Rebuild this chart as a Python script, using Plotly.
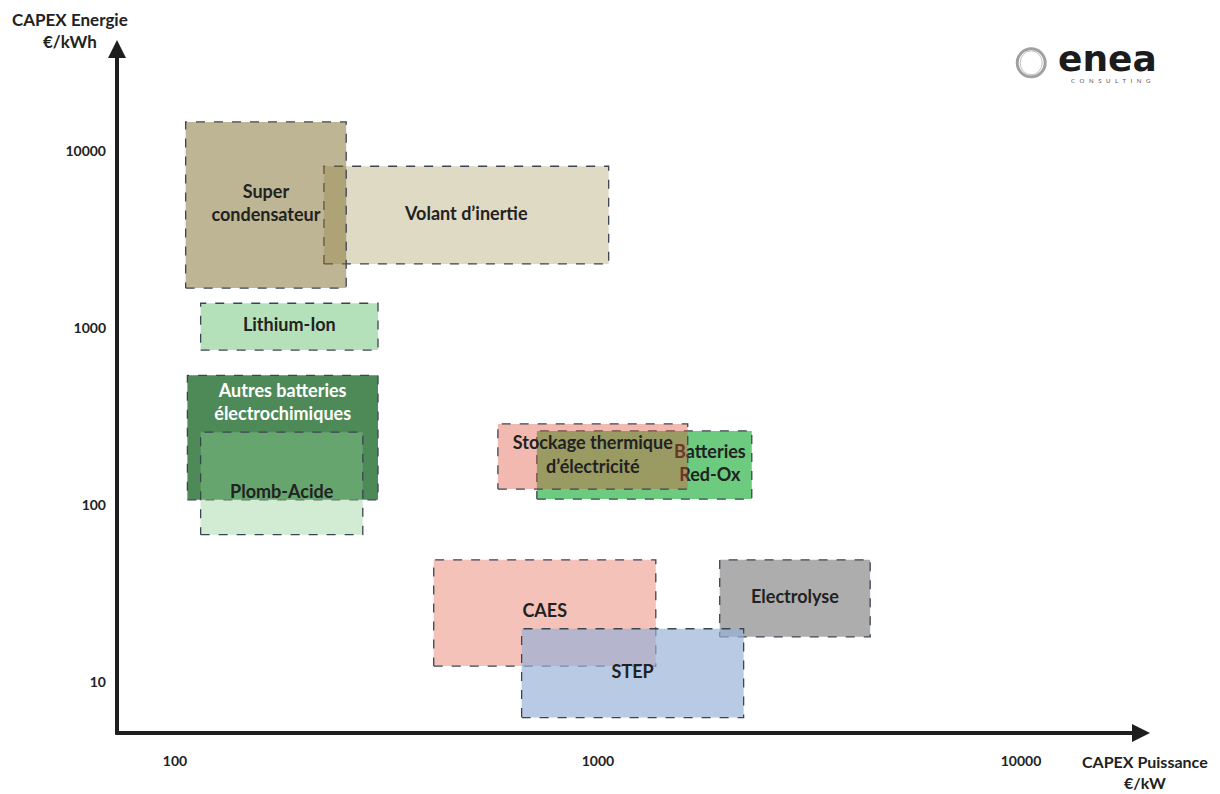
import plotly.graph_objects as go
import numpy as np

# Technologies de stockage : CAPEX puissance (€/kW) et CAPEX énergie (€/kWh)
techs = ["Volant d’inertie", "Super<br>condensateur", "Lithium-Ion",
         "Autres batteries<br>électrochimiques", "Plomb-Acide",
         "Batteries<br>Red-Ox", "Stockage thermique<br>d’électricité",
         "CAES", "Electrolyse", "STEP"]
kw_min = [225, 106, 115, 107, 115, 717, 580, 409, 1940, 660]
kw_max = [1060, 254, 302, 302, 278, 2310, 1630, 1370, 4400, 2210]
kwh_min = [2300, 1680, 750, 107, 68, 108, 123, 12.3, 18, 6.3]
kwh_max = [8200, 14600, 1380, 540, 258, 262, 287, 49, 49, 20]

x_ticks = [100, 1000, 10000]
y_ticks = [10, 100, 1000, 10000]

fills = ["rgba(189,181,137,0.5)", "rgba(125,107,41,0.5)", "rgb(181,225,186)",
         "rgb(78,138,87)", "rgba(142,205,145,0.4)",
         "rgb(109,203,127)", "rgba(222,80,57,0.4)",
         "rgb(244,194,184)", "rgb(173,173,173)", "rgba(149,176,215,0.67)"]
text_colors = ["#222222"] * len(techs)
text_colors[3] = "white"
# labels not at the centre of their box (log position offsets)
label_shift = {3: (0, 0.19), 4: (0, -0.055), 5: (0.155, 0)}

FONT = "Lato, 'Open Sans', sans-serif"

fig = go.Figure()
for i, name in enumerate(techs):
    x0, x1, y0, y1 = kw_min[i], kw_max[i], kwh_min[i], kwh_max[i]
    fig.add_trace(go.Scatter(
        x=[x0, x1, x1, x0, x0], y=[y0, y0, y1, y1, y0],
        mode="lines", fill="toself", fillcolor=fills[i],
        line=dict(color="#3b4552", width=1.3, dash="dash"),
        hoverinfo="skip", showlegend=False))
    dx, dy = label_shift.get(i, (0, 0))
    lx = 10 ** ((np.log10(x0) + np.log10(x1)) / 2 + dx)
    ly = 10 ** ((np.log10(y0) + np.log10(y1)) / 2 + dy)
    fig.add_trace(go.Scatter(
        x=[lx], y=[ly], mode="text", text=["<b>%s</b>" % name],
        textfont=dict(family=FONT, size=18, color=text_colors[i]),
        hoverinfo="skip", showlegend=False))

fig.update_xaxes(type="log", range=[1.863, 4.305], tickvals=x_ticks,
                 ticktext=["<b>%d</b>" % v for v in x_ticks],
                 showgrid=False, zeroline=False, showline=False, ticks="",
                 ticklabelstandoff=18,
                 tickfont=dict(family=FONT, size=14, color="#222"))
fig.update_yaxes(type="log", range=[0.712, 4.627], tickvals=y_ticks,
                 ticktext=["<b>%d</b>" % v for v in y_ticks],
                 showgrid=False, zeroline=False, showline=False, ticks="",
                 ticklabelstandoff=10,
                 tickfont=dict(family=FONT, size=14, color="#222"))

annotations = [
    # axes with arrows
    dict(x=1, y=0, xref="paper", yref="paper", ax=-1036, ay=0, text="",
         showarrow=True, arrowhead=2, arrowsize=0.9, arrowwidth=4,
         arrowcolor="#1e1e1e", standoff=0),
    dict(x=0, y=1, xref="paper", yref="paper", ax=0, ay=696, text="",
         showarrow=True, arrowhead=2, arrowsize=0.9, arrowwidth=4,
         arrowcolor="#1e1e1e", standoff=0),
    # axis titles
    dict(x=-0.0455, y=1.013, xref="paper", yref="paper", showarrow=False,
         xanchor="center", yanchor="middle",
         text="<b>CAPEX Energie</b><br><b>€/kWh</b>", align="center",
         font=dict(family=FONT, size=17, color="#222")),
    dict(x=0.995, y=-0.056, xref="paper", yref="paper", showarrow=False,
         xanchor="center", yanchor="middle",
         text="<b>CAPEX Puissance</b><br><b>€/kW</b>", align="center",
         font=dict(family=FONT, size=16, color="#222")),
    # logo
    dict(x=0.959, y=0.973, xref="paper", yref="paper", showarrow=False,
         xanchor="center", yanchor="middle",
         text="<b>enea</b>",
         font=dict(family="DejaVu Sans", size=36, color="#1c1c1c")),
    dict(x=0.962, y=0.942, xref="paper", yref="paper", showarrow=False,
         xanchor="center", yanchor="middle",
         text="C   O   N   S   U   L   T   I   N   G",
         font=dict(family=FONT, size=6, color="#555")),
]

shapes = [
    dict(type="circle", xref="paper", yref="paper", xsizemode="pixel",
         ysizemode="pixel", xanchor=0.885, yanchor=0.967,
         x0=-14, x1=14, y0=-14, y1=14, line=dict(color="#a0a0a0", width=3)),
    dict(type="circle", xref="paper", yref="paper", xsizemode="pixel",
         ysizemode="pixel", xanchor=0.885, yanchor=0.967,
         x0=-11, x1=11, y0=-12, y1=12, line=dict(color="#c2c2c2", width=1)),
]

# the page adds an 8 px body margin, so the figure is 8 px smaller
fig.update_layout(
    width=1212, height=786,
    margin=dict(l=109, r=70, t=32, b=61),
    paper_bgcolor="white", plot_bgcolor="white",
    annotations=annotations, shapes=shapes,
    font=dict(family=FONT),
)

fig.write_html("out.html")
